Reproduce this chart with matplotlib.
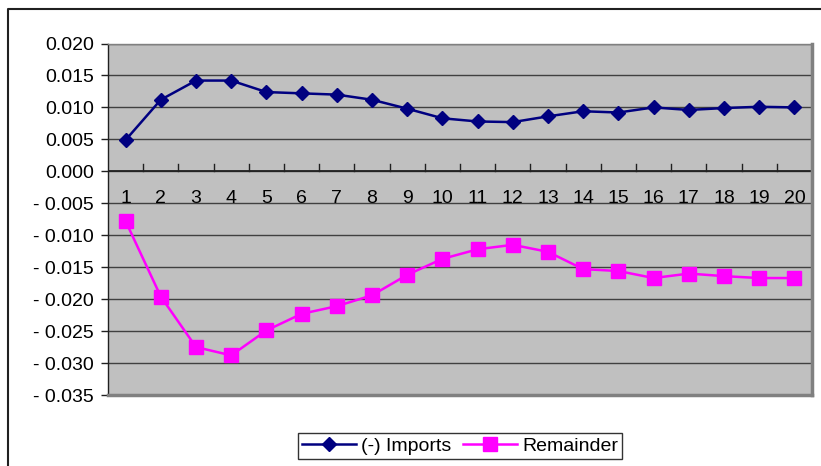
import matplotlib
matplotlib.use("Agg")
import matplotlib.pyplot as plt
from matplotlib.lines import Line2D
from matplotlib.ticker import FuncFormatter, FixedLocator

periods = list(range(1, 21))
imports = [0.0049, 0.0112, 0.0142, 0.0142, 0.0124, 0.0122, 0.0120, 0.0112, 0.0098, 0.0083,
           0.0078, 0.0077, 0.0086, 0.0094, 0.0092, 0.0100, 0.0096, 0.0099, 0.0101, 0.0100]
remainder = [-0.0078, -0.0196, -0.0275, -0.0288, -0.0249, -0.0223, -0.0211, -0.0194, -0.0162, -0.0137,
             -0.0122, -0.0115, -0.0126, -0.0153, -0.0156, -0.0167, -0.0160, -0.0164, -0.0167, -0.0167]
series_names = ["(-) Imports", "Remainder"]
yticks = [0.020, 0.015, 0.010, 0.005, 0.000, -0.005, -0.010, -0.015, -0.020, -0.025, -0.030, -0.035]

plt.rcParams['font.family'] = ['Liberation Sans', 'DejaVu Sans']

W, H = 821, 466
fig = plt.figure(figsize=(W / 100, H / 100), dpi=100)
ax = fig.add_axes([108 / W, 1 - 395 / H, (812 - 108) / W, (395 - 43.5) / H])
ax.set_facecolor('#C0C0C0')

ax.set_xlim(0.5, 20.5)
ax.set_ylim(-0.035, 0.020)

for y in yticks:
    ax.axhline(y, color='#404040', lw=1.0, zorder=1)
ax.axhline(0, color='#202020', lw=1.3, zorder=2)

ax.plot(periods, imports, color='#000080', lw=1.8, marker='D', markersize=7.2,
        markerfacecolor='#000080', markeredgecolor='#000080', label=series_names[0], zorder=4)
ax.plot(periods, remainder, color='#FF00FF', lw=1.8, marker='s', markersize=10.5,
        markerfacecolor='#FF00FF', markeredgecolor='#FF00FF', label=series_names[1], zorder=4)

# y axis
ax.yaxis.set_major_locator(FixedLocator(yticks))
def fmt(v, pos):
    if v < -1e-9:
        return "- %.3f" % abs(v)
    return "%.3f" % abs(v)
ax.yaxis.set_major_formatter(FuncFormatter(fmt))
ax.tick_params(axis='y', direction='out', length=5, width=1, color='#202020', labelsize=14, pad=5)

# x axis: category labels below the zero line, tick marks at category boundaries
ax.set_xticks([])
for p in periods:
    ax.plot([p + 0.5, p + 0.5], [0, 0.0011], color='#202020', lw=1, zorder=2)
    ax.text(p, -0.0029, str(p), ha='center', va='top', fontsize=14, color='black', zorder=3)

ax.spines['left'].set_color('#202020')
ax.spines['left'].set_linewidth(1.0)
ax.spines['top'].set_color('#808080')
ax.spines['top'].set_linewidth(1.0)
ax.spines['right'].set_color('#808080')
ax.spines['right'].set_linewidth(2.5)
ax.spines['bottom'].set_color('#808080')
ax.spines['bottom'].set_linewidth(2.5)

leg = ax.legend(loc='center', bbox_to_anchor=(460 / W, 1 - 446 / H), bbox_transform=fig.transFigure,
                ncol=2, frameon=True, fancybox=False, fontsize=14, handlelength=2.8,
                handletextpad=0.25, columnspacing=0.6, borderpad=0.2, borderaxespad=0)
leg.get_frame().set_edgecolor('black')
leg.get_frame().set_linewidth(1.0)
leg.get_frame().set_facecolor('white')

# outer chart border (top and left visible)
fig.add_artist(Line2D([7.5 / W, 7.5 / W, 1.0], [0.0, 1 - 9 / H, 1 - 9 / H],
                      transform=fig.transFigure, color='#202020', lw=1.5))

fig.savefig('out.png', dpi=100)
